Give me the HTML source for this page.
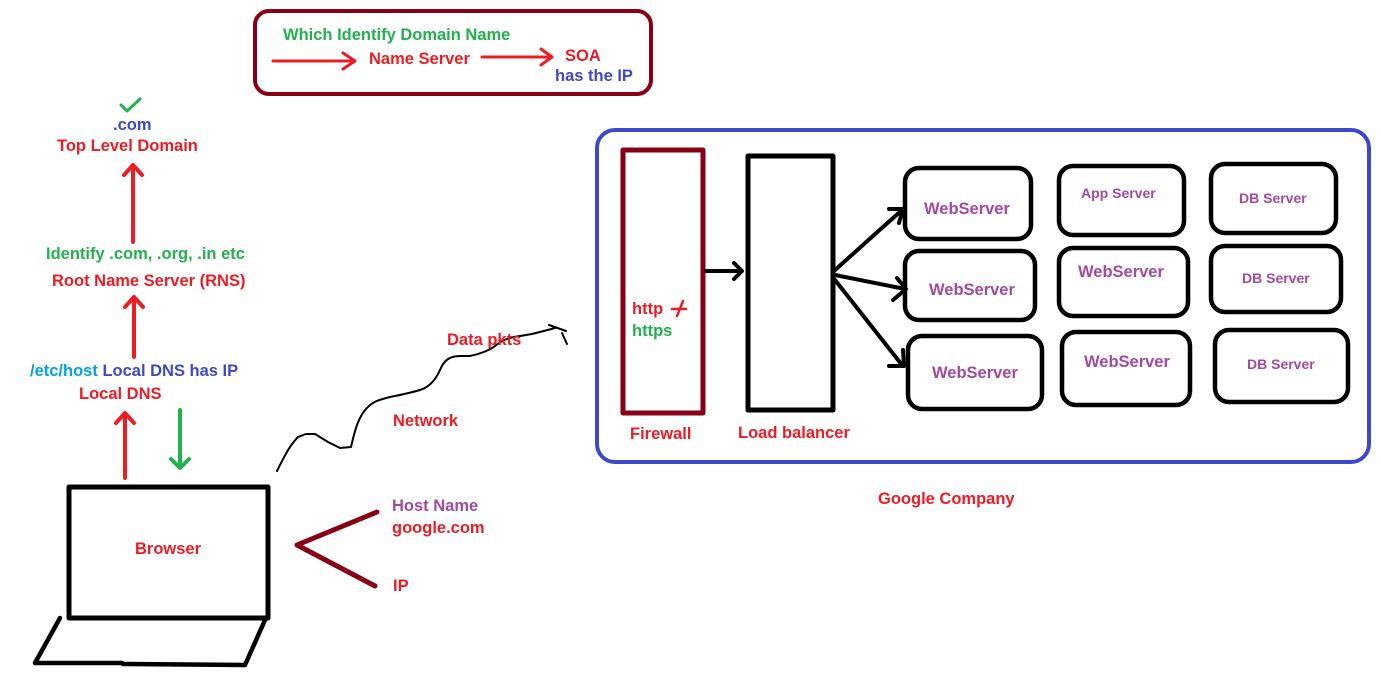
<!DOCTYPE html>
<html><head><meta charset="utf-8"><style>
html,body{margin:0;padding:0;background:#fff;}
svg{display:block;}
text{font-family:"Liberation Sans",sans-serif;font-weight:bold;font-size:16.5px;}
.r{fill:#ed1c24}.g{fill:#22b14c}.b{fill:#3f48cc}.p{fill:#a349a4}.c{fill:#00a2e8}
</style></head><body>
<svg width="1381" height="677" viewBox="0 0 1381 677" xmlns="http://www.w3.org/2000/svg">
<g fill="none" stroke-linecap="round" stroke-linejoin="round">
<rect x="255" y="11" width="396" height="83" rx="14" stroke="#880015" stroke-width="4"/>
<path d="M273 61 L354 61 M343 53 L355 61 L343 69" stroke="#ed1c24" stroke-width="3"/>
<path d="M482 57 L551 57 M541 49 L552 57 L541 65" stroke="#ed1c24" stroke-width="3"/>
<path d="M121 105 L127 111 L140 99" stroke="#22b14c" stroke-width="3"/>
<path d="M133 242 L133 165 M124 175 L133 165 L142 175" stroke="#ed1c24" stroke-width="4"/>
<path d="M134 357 L134 297 M125 307 L134 297 L143 307" stroke="#ed1c24" stroke-width="4"/>
<path d="M125 478 L125 413 M116 423 L125 413 L134 423" stroke="#ed1c24" stroke-width="4"/>
<path d="M180 410 L180 468 M171 459 L180 468 L189 459" stroke="#22b14c" stroke-width="4"/>
<rect x="69" y="487" width="199" height="131" stroke="#000" stroke-width="5"/>
<path d="M60 618 L35 663 L122 663 L123 664 L245 665 M265 620 L245 665" stroke="#000" stroke-width="4.5"/>
<path d="M377 512 L297 545 L375 586" stroke="#880015" stroke-width="5"/>
<path d="M277 471 C285 455 290 445 298 437 L306 434 L315 434 L328 442 L340 448 L351 447 C355 430 358 418 366 409 C372 402 378 400 390 397 C400 395 410 393 420 390 C430 387 436 379 440 370 C444 360 450 356 460 356 L470 356 C480 354 490 350 495 346 C502 340 510 337 520 336 L532 334 C540 332 548 330 555 328 M549 325 L566 331 M562 333 L567 344" stroke="#000" stroke-width="2"/>
<rect x="597" y="130" width="772" height="332" rx="18" stroke="#3f48cc" stroke-width="4"/>
<rect x="623" y="150" width="80" height="263" stroke="#880015" stroke-width="5"/>
<rect x="748" y="156" width="85" height="254" stroke="#000" stroke-width="5"/>
<path d="M706 271 L740 271 M734 263 L742 271 L734 279" stroke="#000" stroke-width="4"/>
<path d="M835 270 L902 210 M889 209 L903 209 L899 223" stroke="#000" stroke-width="4"/>
<path d="M835 275 L905 289 M897 278 L906 289 L893 300" stroke="#000" stroke-width="4"/>
<path d="M835 280 L902 365 M889 366 L904 366 L903 350" stroke="#000" stroke-width="4"/>
<rect x="905" y="168" width="126" height="71" rx="14" stroke="#000" stroke-width="4.5"/>
<rect x="905" y="251" width="130" height="69" rx="14" stroke="#000" stroke-width="4.5"/>
<rect x="908" y="336" width="134" height="73" rx="14" stroke="#000" stroke-width="4.5"/>
<rect x="1059" y="166" width="125" height="69" rx="14" stroke="#000" stroke-width="4.5"/>
<rect x="1059" y="248" width="129" height="68" rx="14" stroke="#000" stroke-width="4.5"/>
<rect x="1062" y="332" width="128" height="73" rx="14" stroke="#000" stroke-width="4.5"/>
<rect x="1211" y="164" width="125" height="69" rx="14" stroke="#000" stroke-width="4.5"/>
<rect x="1211" y="246" width="130" height="66" rx="14" stroke="#000" stroke-width="4.5"/>
<rect x="1215" y="330" width="133" height="72" rx="14" stroke="#000" stroke-width="4.5"/>
<path d="M672 309 L686 309 M683 301 L677 316" stroke="#ed1c24" stroke-width="2.5"/>
</g>
<text x="283" y="40" class="g">Which Identify Domain Name</text>
<text x="369" y="64" class="r">Name Server</text>
<text x="565" y="61" class="r">SOA</text>
<text x="555" y="81" class="b">has the IP</text>
<text x="113" y="130" class="b">.com</text>
<text x="57" y="151" class="r">Top Level Domain</text>
<text x="46" y="259" class="g">Identify .com, .org, .in etc</text>
<text x="52" y="286" class="r">Root Name Server (RNS)</text>
<text x="30" y="376"><tspan class="c">/etc/host</tspan><tspan class="b"> Local DNS has IP</tspan></text>
<text x="79" y="399" class="r">Local DNS</text>
<text x="135" y="554" class="r">Browser</text>
<text x="393" y="426" class="r">Network</text>
<text x="447" y="345" class="r">Data pkts</text>
<text x="392" y="511" class="p">Host Name</text>
<text x="392" y="533" class="r">google.com</text>
<text x="393" y="591" class="r">IP</text>
<text x="632" y="314" class="r">http</text>
<text x="632" y="336" class="g">https</text>
<text x="630" y="439" class="r">Firewall</text>
<text x="738" y="438" class="r">Load balancer</text>
<text x="924" y="214" class="p">WebServer</text>
<text x="929" y="295" class="p">WebServer</text>
<text x="932" y="378" class="p">WebServer</text>
<text x="1081" y="198" class="p" style="font-size:14px">App Server</text>
<text x="1078" y="277" class="p">WebServer</text>
<text x="1084" y="367" class="p">WebServer</text>
<text x="1239" y="203" class="p" style="font-size:14px">DB Server</text>
<text x="1242" y="283" class="p" style="font-size:14px">DB Server</text>
<text x="1247" y="369" class="p" style="font-size:14px">DB Server</text>
<text x="878" y="504" class="r">Google Company</text>
</svg>
</body></html>
